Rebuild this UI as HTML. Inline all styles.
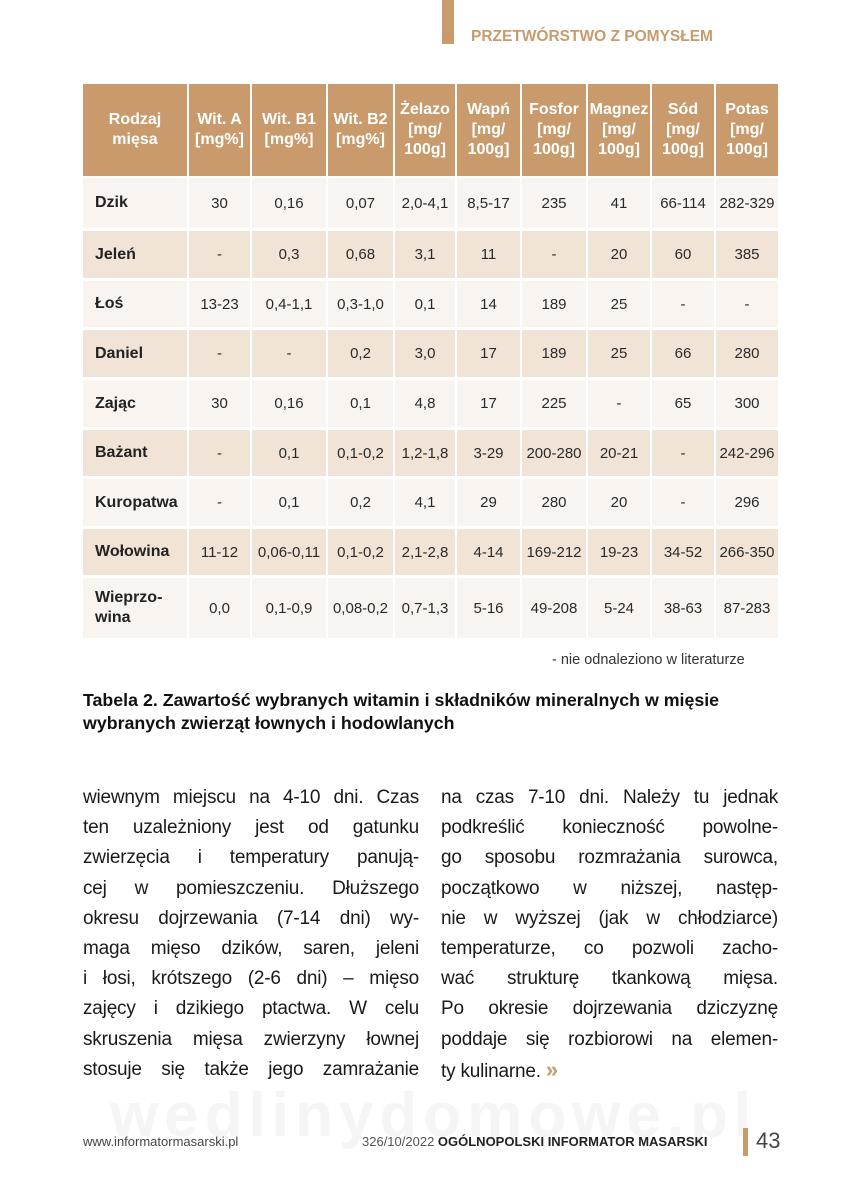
<!DOCTYPE html>
<html><head><meta charset="utf-8"><style>
body{margin:0;width:843px;height:1200px;background:#fff;position:relative;overflow:hidden;font-family:"Liberation Sans",sans-serif;}
.a{position:absolute}
.c{position:absolute;display:flex;align-items:center;justify-content:center;text-align:center;font-size:15px;color:#2a2a2a;}
.h{background:#c99b6c;color:#fff;font-weight:bold;font-size:16px;line-height:20px}
.n{justify-content:flex-start;padding-left:12px;font-weight:bold;color:#222;font-size:16px;box-sizing:border-box}
.t{font-size:19px;line-height:30.2px;color:#1a1a1a;text-align:justify;text-align-last:justify;letter-spacing:-0.2px}
.t div{height:30.2px}
</style></head><body>
<div class="a" style="left:110px;top:1080px;font-size:62px;font-weight:bold;color:#f5f5f5;letter-spacing:6px">wedlinydomowe.pl</div>
<div class="a" style="left:442px;top:0;width:12px;height:44px;background:#c99b6c"></div>
<div class="a" style="left:471px;top:28px;font-weight:bold;font-size:15.5px;color:#c99b6c">PRZETWÓRSTWO Z POMYSŁEM</div>
<div id="tb"></div>
<div class="a" style="left:552px;top:652px;font-size:14.5px;color:#333">- nie odnaleziono w literaturze</div>
<div class="a" style="left:83px;top:689px;font-size:17.8px;font-weight:bold;color:#111;line-height:23px">Tabela 2. Zawartość wybranych witamin i składników mineralnych w mięsie<br>wybranych zwierząt łownych i hodowlanych</div>
<div class="a t" style="left:83px;top:783px;width:336px"><div>wiewnym miejscu na 4-10 dni. Czas</div><div>ten uzależniony jest od gatunku</div><div>zwierzęcia i temperatury panują-</div><div>cej w pomieszczeniu. Dłuższego</div><div>okresu dojrzewania (7-14 dni) wy-</div><div>maga mięso dzików, saren, jeleni</div><div>i łosi, krótszego (2-6 dni) – mięso</div><div>zajęcy i dzikiego ptactwa. W celu</div><div>skruszenia mięsa zwierzyny łownej</div><div>stosuje się także jego zamrażanie</div></div>
<div class="a t" style="left:441px;top:783px;width:337px"><div>na czas 7-10 dni. Należy tu jednak</div><div>podkreślić konieczność powolne-</div><div>go sposobu rozmrażania surowca,</div><div>początkowo w niższej, następ-</div><div>nie w wyższej (jak w chłodziarce)</div><div>temperaturze, co pozwoli zacho-</div><div>wać strukturę tkankową mięsa.</div><div>Po okresie dojrzewania dziczyznę</div><div>poddaje się rozbiorowi na elemen-</div><div style="text-align:left;text-align-last:left">ty kulinarne. <b style="color:#c99b6c;font-size:22px">»</b></div></div>
<div class="a" style="left:83px;top:1134px;font-size:13px;color:#444">www.informatormasarski.pl</div>
<div class="a" style="left:362px;top:1134px;font-size:13px;color:#555">326/10/2022 <b style="color:#222">OGÓLNOPOLSKI INFORMATOR MASARSKI</b></div>
<div class="a" style="left:743px;top:1128px;width:5px;height:28px;background:#c99b6c"></div>
<div class="a" style="left:756px;top:1128px;font-size:22px;color:#444">43</div>
<script>
var xs=[83,187,250,326,393,455,520,586,650,714,778];
var hd=["Rodzaj<br>mięsa","Wit. A<br>[mg%]","Wit. B1<br>[mg%]","Wit. B2<br>[mg%]","Żelazo<br>[mg/<br>100g]","Wapń<br>[mg/<br>100g]","Fosfor<br>[mg/<br>100g]","Magnez<br>[mg/<br>100g]","Sód<br>[mg/<br>100g]","Potas<br>[mg/<br>100g]"];
var rows=[["Dzik","30","0,16","0,07","2,0-4,1","8,5-17","235","41","66-114","282-329"],
["Jeleń","-","0,3","0,68","3,1","11","-","20","60","385"],
["Łoś","13-23","0,4-1,1","0,3-1,0","0,1","14","189","25","-","-"],
["Daniel","-","-","0,2","3,0","17","189","25","66","280"],
["Zając","30","0,16","0,1","4,8","17","225","-","65","300"],
["Bażant","-","0,1","0,1-0,2","1,2-1,8","3-29","200-280","20-21","-","242-296"],
["Kuropatwa","-","0,1","0,2","4,1","29","280","20","-","296"],
["Wołowina","11-12","0,06-0,11","0,1-0,2","2,1-2,8","4-14","169-212","19-23","34-52","266-350"],
["Wieprzo-<br>wina","0,0","0,1-0,9","0,08-0,2","0,7-1,3","5-16","49-208","5-24","38-63","87-283"]];
var ys=[[178,228],[231,278],[281,327],[330,377],[380,427],[430,476],[479,526],[529,575],[578,638]];
var h="";
for(var i=0;i<10;i++){var x=xs[i]+(i?2:0),w=xs[i+1]-xs[i]-(i?2:0);
h+='<div class="c h" style="left:'+x+'px;top:84px;width:'+w+'px;height:92px">'+hd[i]+'</div>';
for(var r=0;r<9;r++){var bg=r%2?"#f1e4d7":"#f9f4ef";
h+='<div class="c'+(i?'':' n')+'" style="left:'+x+'px;top:'+ys[r][0]+'px;width:'+w+'px;height:'+(ys[r][1]-ys[r][0])+'px;background:'+bg+';'+(r==8&&!i?'text-align:left;line-height:20px':'')+'">'+rows[r][i]+'</div>';}}
document.getElementById("tb").innerHTML=h;
</script>
</body></html>
